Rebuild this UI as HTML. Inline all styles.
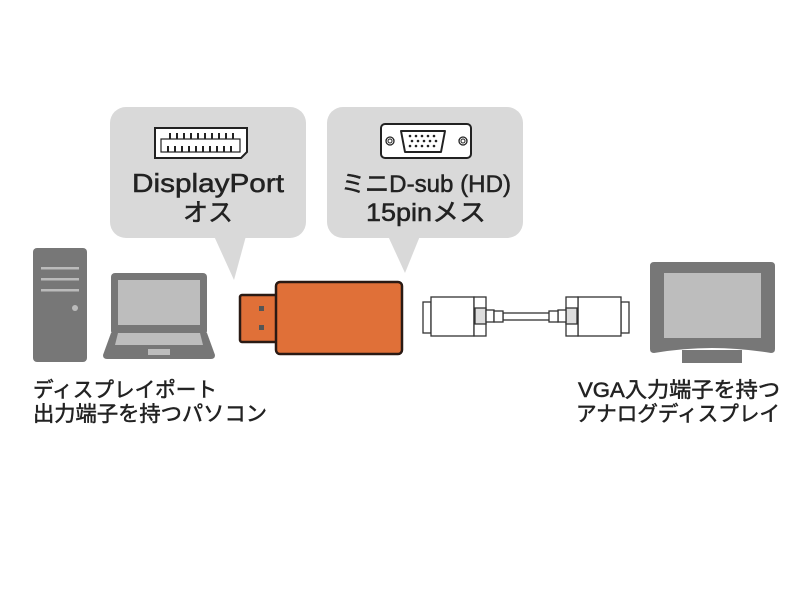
<!DOCTYPE html>
<html><head><meta charset="utf-8"><style>
html,body{margin:0;padding:0;background:#fff;width:800px;height:600px;overflow:hidden}
svg text{font-family:"Liberation Sans","Noto Sans CJK JP",sans-serif;fill:#222;stroke:#222;stroke-width:0.5}
</style></head><body>
<svg width="800" height="600" viewBox="0 0 800 600" xmlns="http://www.w3.org/2000/svg">
<rect x="110" y="107" width="196" height="131" rx="16" fill="#d9d9d9"/>
<polygon points="214,236 246,236 234,280" fill="#d9d9d9"/>
<rect x="327" y="107" width="196" height="131" rx="16" fill="#d9d9d9"/>
<polygon points="388,236 420,236 405,273" fill="#d9d9d9"/>
<path d="M155,128 H247 V152 L241,158 H155 Z" fill="#fff" stroke="#222" stroke-width="2"/>
<rect x="161" y="139" width="79" height="13" fill="none" stroke="#222" stroke-width="1.2"/>
<g fill="#222">
<rect x="169" y="133" width="2" height="6"/><rect x="176" y="133" width="2" height="6"/><rect x="183" y="133" width="2" height="6"/><rect x="190" y="133" width="2" height="6"/><rect x="197" y="133" width="2" height="6"/><rect x="204" y="133" width="2" height="6"/><rect x="211" y="133" width="2" height="6"/><rect x="218" y="133" width="2" height="6"/><rect x="225" y="133" width="2" height="6"/><rect x="232" y="133" width="2" height="6"/>
<rect x="167" y="146" width="2" height="6"/><rect x="174" y="146" width="2" height="6"/><rect x="181" y="146" width="2" height="6"/><rect x="188" y="146" width="2" height="6"/><rect x="195" y="146" width="2" height="6"/><rect x="202" y="146" width="2" height="6"/><rect x="209" y="146" width="2" height="6"/><rect x="216" y="146" width="2" height="6"/><rect x="223" y="146" width="2" height="6"/><rect x="230" y="146" width="2" height="6"/>
</g>
<rect x="381" y="124" width="90" height="34" rx="4" fill="#fff" stroke="#222" stroke-width="2"/>
<path d="M401,131 H445 L441,152 H405 Z" fill="#fff" stroke="#222" stroke-width="2" stroke-linejoin="round"/>
<circle cx="390" cy="141" r="4" fill="none" stroke="#222" stroke-width="1.3"/><circle cx="390" cy="141" r="2" fill="none" stroke="#222" stroke-width="1"/>
<circle cx="463" cy="141" r="4" fill="none" stroke="#222" stroke-width="1.3"/><circle cx="463" cy="141" r="2" fill="none" stroke="#222" stroke-width="1"/>
<g fill="#222">
<circle cx="410" cy="136" r="1.3"/><circle cx="416" cy="136" r="1.3"/><circle cx="422" cy="136" r="1.3"/><circle cx="428" cy="136" r="1.3"/><circle cx="434" cy="136" r="1.3"/>
<circle cx="412" cy="141" r="1.3"/><circle cx="418" cy="141" r="1.3"/><circle cx="424" cy="141" r="1.3"/><circle cx="430" cy="141" r="1.3"/><circle cx="436" cy="141" r="1.3"/>
<circle cx="410" cy="146" r="1.3"/><circle cx="416" cy="146" r="1.3"/><circle cx="422" cy="146" r="1.3"/><circle cx="428" cy="146" r="1.3"/><circle cx="434" cy="146" r="1.3"/>
</g>
<text x="132" y="192" font-size="26" textLength="152" lengthAdjust="spacingAndGlyphs">DisplayPort</text>
<text x="208" y="221" font-size="25" text-anchor="middle">オス</text>
<text x="341" y="192" font-size="24" textLength="170" lengthAdjust="spacingAndGlyphs">ミニD-sub (HD)</text>
<text x="366" y="221" font-size="25" textLength="120" lengthAdjust="spacingAndGlyphs">15pinメス</text>
<rect x="33" y="248" width="54" height="114" rx="4" fill="#777"/>
<rect x="41" y="267" width="38" height="2.5" fill="#bbb"/><rect x="41" y="278" width="38" height="2.5" fill="#bbb"/><rect x="41" y="289" width="38" height="2.5" fill="#bbb"/>
<circle cx="75" cy="308" r="3" fill="#bbb"/>
<rect x="111" y="273" width="96" height="62" rx="4" fill="#777"/>
<rect x="118" y="280" width="82" height="45" fill="#bdbdbd"/>
<path d="M111,333 H207 L215,355 Q215,359 211,359 H107 Q103,359 103,355 Z" fill="#777"/>
<path d="M118,333 H200 L203,345 H115 Z" fill="#bdbdbd"/>
<rect x="148" y="349" width="22" height="6" fill="#bdbdbd"/>
<rect x="240" y="295" width="38" height="47" rx="2" fill="#e07038" stroke="#2a1a14" stroke-width="2.5"/>
<rect x="259" y="306" width="5" height="5" fill="#555"/><rect x="259" y="325" width="5" height="5" fill="#555"/>
<rect x="276" y="282" width="126" height="72" rx="4" fill="#e07038" stroke="#2a1a14" stroke-width="2.5"/>
<g fill="#fff" stroke="#333" stroke-width="1.3">
<rect x="503" y="313" width="50" height="7"/>
<rect x="423" y="302" width="8" height="31"/>
<rect x="431" y="297" width="43" height="39"/>
<rect x="474" y="297" width="12" height="39"/>
<rect x="475" y="308" width="11" height="16" fill="#ddd"/>
<rect x="486" y="310" width="8" height="12"/>
<rect x="494" y="311" width="9" height="11"/>
<rect x="621" y="302" width="8" height="31"/>
<rect x="578" y="297" width="43" height="39"/>
<rect x="566" y="297" width="12" height="39"/>
<rect x="566" y="308" width="11" height="16" fill="#ddd"/>
<rect x="558" y="310" width="8" height="12"/>
<rect x="549" y="311" width="9" height="11"/>
</g>
<path d="M654,262 H771 Q775,262 775,266 V349 Q775,353 771,353 Q740,348 712,348 Q684,348 654,353 Q650,353 650,349 V266 Q650,262 654,262 Z" fill="#777"/>
<rect x="664" y="273" width="97" height="65" fill="#bdbdbd"/>
<rect x="682" y="350" width="60" height="13" fill="#777"/>
<text x="33" y="397" font-size="21" textLength="184" lengthAdjust="spacingAndGlyphs">ディスプレイポート</text>
<text x="33" y="421" font-size="21" textLength="234" lengthAdjust="spacingAndGlyphs">出力端子を持つパソコン</text>
<text x="578" y="397" font-size="21" textLength="202" lengthAdjust="spacingAndGlyphs">VGA入力端子を持つ</text>
<text x="576" y="421" font-size="21" textLength="204" lengthAdjust="spacingAndGlyphs">アナログディスプレイ</text>
</svg>
</body></html>
